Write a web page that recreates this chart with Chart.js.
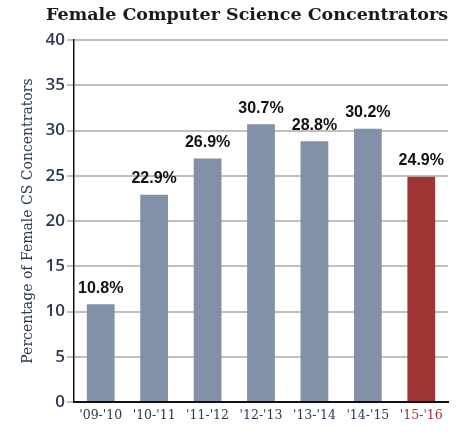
<!DOCTYPE html>
<html>
<head>
<meta charset="utf-8">
<script src="https://cdn.jsdelivr.net/npm/chart.js@4"></script>
<style>
  html, body { margin: 0; padding: 0; background: #fff; }
  #wrap { width: 474px; height: 433px; }
</style>
</head>
<body>
<div id="wrap"><canvas id="csChart"></canvas></div>
<script>
var years = ["'09-'10", "'10-'11", "'11-'12", "'12-'13", "'13-'14", "'14-'15", "'15-'16"];
var femalePct = [10.8, 22.9, 26.9, 30.7, 28.8, 30.2, 24.9];
var yTicks = [0, 5, 10, 15, 20, 25, 30, 35, 40];

var grayBar = '#8391a8';
var redBar = '#9f3535';
var slate = '#2c3b50';

var barColors = years.map(function (y, i) {
    return i === years.length - 1 ? redBar : grayBar;
});
var xLabelColors = years.map(function (y, i) {
    return i === years.length - 1 ? redBar : slate;
});

// labels above each bar
var valueLabels = {
    id: 'valueLabels',
    afterDatasetsDraw: function (chart) {
        var ctx = chart.ctx;
        var meta = chart.getDatasetMeta(0);
        ctx.save();
        ctx.font = 'bold 16px "Liberation Sans"';
        ctx.fillStyle = '#111';
        ctx.textAlign = 'center';
        ctx.textBaseline = 'bottom';
        meta.data.forEach(function (bar, i) {
            ctx.fillText(femalePct[i].toFixed(1) + '%', bar.x, bar.y - 8);
        });
        ctx.restore();
    }
};

var ctx = document.getElementById('csChart').getContext('2d');

var data = {
    labels: years,
    datasets: [
        {
            data: femalePct,
            backgroundColor: barColors,
            borderWidth: 0,
            categoryPercentage: 1.0,
            barPercentage: 0.52,
        },
    ],
};

var options = {
    responsive: true,
    maintainAspectRatio: false,
    animation: false,
    layout: { padding: { left: 0, right: 26, top: 0, bottom: 0 } },
    plugins: {
        legend: { display: false },
        tooltip: { enabled: false },
        title: {
            display: true,
            align: 'end',
            text: 'Female Computer Science Concentrators',
            color: '#1a1a1a',
            font: { family: 'DejaVu Serif', size: 17.5, weight: 'bold', lineHeight: 1.2 },
            padding: { top: 5, bottom: 14 },
        },
    },
    scales: {
        x: {
            grid: { display: false, drawTicks: false },
            border: { color: '#111', width: 2 },
            ticks: {
                color: xLabelColors,
                font: { family: 'DejaVu Serif', size: 12.5 },
                padding: 6,
            },
            afterFit: function (scale) { scale.height = 31; },
        },
        y: {
            min: 0,
            max: 40,
            afterBuildTicks: function (scale) {
                scale.ticks = yTicks.map(function (v) { return { value: v }; });
            },
            grid: { color: '#c0c0c0', lineWidth: 2, tickLength: 7, drawOnChartArea: true },
            border: { color: '#111', width: 1.5 },
            ticks: {
                color: slate,
                font: { family: 'Open Sans', size: 17, weight: '600' },
                padding: 2,
            },
            title: {
                display: true,
                text: 'Percentage of Female CS Concentrators',
                color: slate,
                font: { family: 'DejaVu Serif', size: 14, weight: '500' },
                padding: { top: 20, bottom: 0 },
            },
            afterFit: function (scale) { scale.width = 74; },
        },
    },
};

var config = {
    type: 'bar',
    data: data,
    options: options,
    plugins: [valueLabels],
};

var myChart = new Chart(ctx, config);
</script>
</body>
</html>
